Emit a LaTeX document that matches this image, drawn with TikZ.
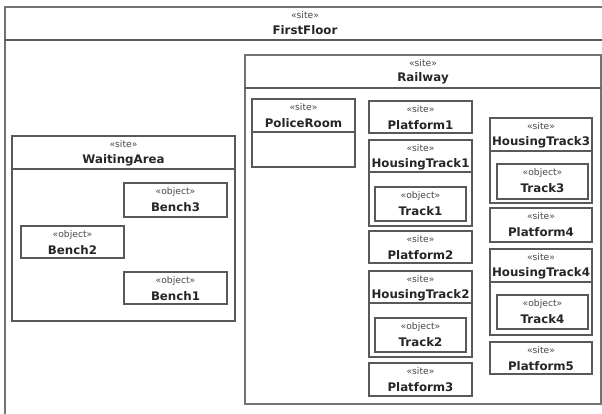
\documentclass[tikz,border=0pt]{standalone}
\usepackage{fontspec}
\setmainfont{DejaVu Sans}
\usetikzlibrary{fit,calc}
\newcommand{\umlbox}[7]{%
  \node[frame, fit={(#2,#3) (#4,#5)}] (#1) {};
  \node[stereo] (#1-st) at ($(#1.north)+(0,8.5)$) {«#6»};
  \node[title] (#1-nm) at ($(#1.north)+(0,24)$) {#7};
}
\newcommand{\umlsep}[2]{\draw[sepline] (#1.west |- 0,#2) -- (#1.east |- 0,#2);}
\begin{document}
\begin{tikzpicture}[x=1pt,y=-1pt,
  frame/.style={draw=black!65, line width=1.1pt, inner sep=0pt, outer sep=0pt},
  outer/.style={draw=black!55, line width=1.4pt, inner sep=0pt, outer sep=0pt},
  sepline/.style={draw=black!65, line width=1.1pt},
  stereo/.style={font=\fontsize{9.2}{10}\selectfont, text=black!72, inner sep=0pt},
  title/.style={font=\bfseries\fontsize{11.8}{13}\selectfont, text=black!85, inner sep=0pt}]
\useasboundingbox (0,0) rectangle (602,414);
\fill[white] (0,0) rectangle (602,414);
% FirstFloor
\node[outer, fit={(5,7) (605,418)}] (ff) {};
\node[stereo] (ff-st) at (305,15) {«site»};
\node[title] (ff-nm) at (305,30.5) {FirstFloor};
\umlsep{ff}{40}
% Railway
\node[outer, fit={(245,55) (601,404)}] (rw) {};
\node[stereo] (rw-st) at ($(rw.north)+(0,8)$) {«site»};
\node[title] (rw-nm) at ($(rw.north)+(0,23)$) {Railway};
\umlsep{rw}{88}
% WaitingArea
\umlbox{wa}{12}{136}{235}{321}{site}{WaitingArea}
\umlsep{wa}{169}
\umlbox{b3}{124}{183}{227}{217}{object}{Bench3}
\umlbox{b2}{21}{226}{124}{258}{object}{Bench2}
\umlbox{b1}{124}{272}{227}{304}{object}{Bench1}
% PoliceRoom
\umlbox{pr}{252}{99}{355}{167}{site}{PoliceRoom}
\umlsep{pr}{132}
% middle column
\umlbox{p1}{369}{101}{472}{133}{site}{Platform1}
\umlbox{h1}{369}{140}{472}{226}{site}{HousingTrack1}
\umlsep{h1}{172}
\umlbox{t1}{375}{187}{466}{221}{object}{Track1}
\umlbox{p2}{369}{231}{472}{263}{site}{Platform2}
\umlbox{h2}{369}{271}{472}{357}{site}{HousingTrack2}
\umlsep{h2}{303}
\umlbox{t2}{375}{318}{466}{352}{object}{Track2}
\umlbox{p3}{369}{363}{472}{396}{site}{Platform3}
% right column
\umlbox{h3}{490}{118}{592}{203}{site}{HousingTrack3}
\umlsep{h3}{151}
\umlbox{t3}{497}{164}{588}{199}{object}{Track3}
\umlbox{p4}{490}{208}{592}{242}{site}{Platform4}
\umlbox{h4}{490}{249}{592}{335}{site}{HousingTrack4}
\umlsep{h4}{282}
\umlbox{t4}{497}{295}{588}{329}{object}{Track4}
\umlbox{p5}{490}{342}{592}{374}{site}{Platform5}
\end{tikzpicture}
\end{document}
